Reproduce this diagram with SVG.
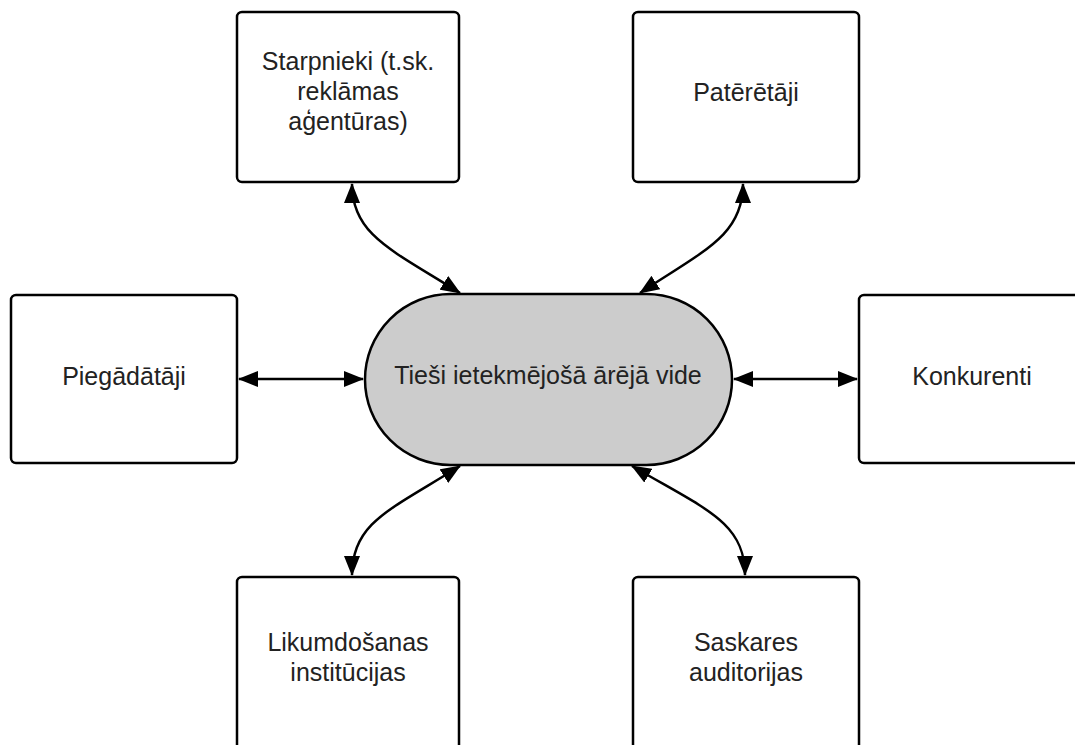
<svg xmlns="http://www.w3.org/2000/svg" width="1075" height="745" viewBox="0 0 1075 745">
<style>
.box{fill:#ffffff;stroke:#000;stroke-width:2.5}
.pill{fill:#cccccc;stroke:#000;stroke-width:2.5}
.lbl{font-family:"Liberation Sans",Arial,sans-serif;font-size:25px;fill:#222;text-anchor:middle}
.con{fill:none;stroke:#000;stroke-width:2.5;marker-start:url(#ah);marker-end:url(#ah)}
</style>
<defs>
<marker id="ah" viewBox="0 0 20 16" refX="19" refY="8" markerWidth="20" markerHeight="16" markerUnits="userSpaceOnUse" orient="auto-start-reverse">
<path d="M0,0 L20,8 L0,16 Z" fill="#000"/>
</marker>
</defs>
<rect width="1075" height="745" fill="#fff"/>
<g id="connectors">
<line class="con" x1="239" y1="379" x2="363" y2="379"/>
<line class="con" x1="734" y1="379" x2="857" y2="379"/>
<path class="con" d="M352,184 C352,235 392,250 460,293"/>
<path class="con" d="M743,184 C743,235 705,250 640,293"/>
<path class="con" d="M460,466 C392,509 352,522 352,575"/>
<path class="con" d="M632,466 C705,509 745,522 745,575"/>
</g>
<g id="center">
<rect class="pill" x="365" y="294" width="367" height="171" rx="85.5"/>
<text class="lbl" x="548" y="384">Tieši ietekmējošā ārējā vide</text>
</g>
<g id="starpnieki">
<rect class="box" x="237" y="12" width="222" height="170" rx="5"/>
<text class="lbl" x="348" y="70">Starpnieki (t.sk.</text>
<text class="lbl" x="348" y="100">reklāmas</text>
<text class="lbl" x="348" y="130">aģentūras)</text>
</g>
<g id="pateretaji">
<rect class="box" x="633" y="12" width="226" height="170" rx="5"/>
<text class="lbl" x="746" y="101">Patērētāji</text>
</g>
<g id="piegadataji">
<rect class="box" x="11" y="295" width="226" height="168" rx="5"/>
<text class="lbl" x="124" y="385">Piegādātāji</text>
</g>
<g id="konkurenti">
<rect class="box" x="859" y="295" width="226" height="168" rx="5"/>
<text class="lbl" x="972" y="385">Konkurenti</text>
</g>
<g id="likumdosanas">
<rect class="box" x="237" y="577" width="222" height="175" rx="5"/>
<text class="lbl" x="348" y="651">Likumdošanas</text>
<text class="lbl" x="348" y="681">institūcijas</text>
</g>
<g id="saskares">
<rect class="box" x="633" y="577" width="226" height="175" rx="5"/>
<text class="lbl" x="746" y="651">Saskares</text>
<text class="lbl" x="746" y="681">auditorijas</text>
</g>
</svg>
